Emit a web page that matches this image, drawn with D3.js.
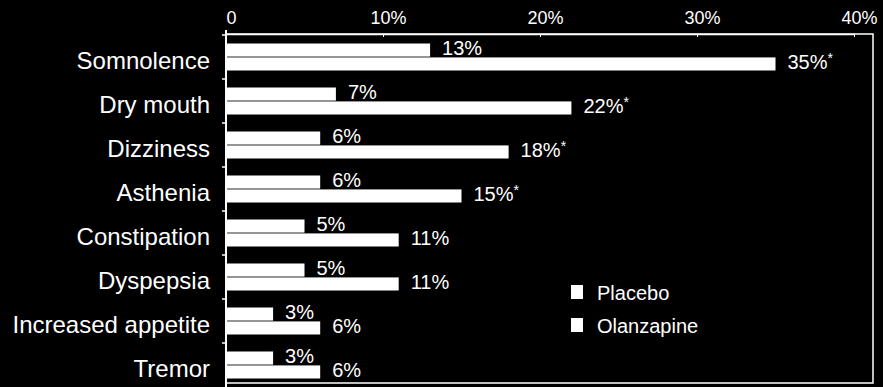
<!DOCTYPE html>
<html>
<head>
<meta charset="utf-8">
<script src="https://cdn.jsdelivr.net/npm/d3@7"></script>
<style>
  html, body { margin: 0; padding: 0; background: #000; }
  svg { display: block; }
  text { font-family: "Liberation Sans", Arial, sans-serif; fill: #fff; }
</style>
</head>
<body>
<div id="chart"></div>
<script>
const categories = ['Somnolence', 'Dry mouth', 'Dizziness', 'Asthenia',
  'Constipation', 'Dyspepsia', 'Increased appetite', 'Tremor'];
const series = ['Placebo', 'Olanzapine'];
const placebo = [13, 7, 6, 6, 5, 5, 3, 3];
const olanzapine = [35, 22, 18, 15, 11, 11, 6, 6];
const significant = [true, true, true, true, false, false, false, false];
const xTicks = [0, 10, 20, 30, 40];

const dims = { width: 883, height: 387 };
const margins = { left: 226, top: 35, right: 10, bottom: 0 };

const rows = categories.map((c, i) => ({
  cat: c,
  vals: [
    { s: 'Placebo', v: placebo[i], star: false },
    { s: 'Olanzapine', v: olanzapine[i], star: significant[i] }
  ]
}));

const svg = d3.select('#chart').append('svg')
  .attr('width', dims.width)
  .attr('height', dims.height);

const x = d3.scaleLinear().domain([0, 40]).range([margins.left, 854]);
const y = d3.scaleBand().domain(categories).range([margins.top, margins.top + 44 * categories.length]);
const y1 = d3.scaleBand().domain(series).range([8.5, 35.5]).paddingInner(0.06);

// frame (top axis line, right + bottom edges)
const frameRight = 873, frameTop = 34, frameBottom = 383;
svg.append('path')
  .attr('d', `M${margins.left},${frameTop}H${frameRight}V${frameBottom}H${margins.left}`)
  .attr('fill', 'none').attr('stroke', '#fff').attr('stroke-width', 1.5);

// x axis along top
const xAxis = d3.axisTop(x).tickValues(xTicks).tickSize(3).tickSizeOuter(0)
  .tickFormat(d => d === 0 ? '0' : d + '%');
const xg = svg.append('g').attr('transform', `translate(0,${frameTop})`).call(xAxis);
xg.select('.domain').attr('stroke', '#fff').attr('stroke-width', 1.5);
xg.selectAll('.tick line').attr('stroke', '#fff').attr('y2', 3);
xg.selectAll('.tick text')
  .attr('fill', '#fff').attr('font-size', 18)
  .attr('x', 5).attr('y', -10).attr('dy', 0)
  .style('font-family', '"Liberation Sans", Arial, sans-serif');

// left axis line with ticks at category boundaries
svg.append('line')
  .attr('x1', margins.left).attr('x2', margins.left)
  .attr('y1', 30).attr('y2', dims.height)
  .attr('stroke', '#fff').attr('stroke-width', 2);
svg.selectAll('.ytick')
  .data(categories)
  .join('line')
  .attr('class', 'ytick')
  .attr('x1', margins.left - 4).attr('x2', margins.left)
  .attr('y1', d => y(d)).attr('y2', d => y(d))
  .attr('stroke', '#fff').attr('stroke-width', 1.5);

// category labels
svg.selectAll('.cat')
  .data(categories)
  .join('text')
  .attr('class', 'cat')
  .attr('x', margins.left - 16)
  .attr('y', d => y(d) + y.bandwidth() / 2 + 12)
  .attr('text-anchor', 'end')
  .attr('font-size', 24)
  .text(d => d);

// bars
const g = svg.selectAll('.row')
  .data(rows)
  .join('g')
  .attr('class', 'row')
  .attr('transform', d => `translate(0,${y(d.cat)})`);

g.selectAll('rect')
  .data(d => d.vals)
  .join('rect')
  .attr('x', x(0))
  .attr('y', d => y1(d.s))
  .attr('width', d => x(d.v) - x(0))
  .attr('height', y1.bandwidth())
  .attr('fill', '#fff');

const lbl = g.selectAll('text.val')
  .data(d => d.vals)
  .join('text')
  .attr('class', 'val')
  .attr('x', d => x(d.v) + 12)
  .attr('y', d => y1(d.s) + y1.bandwidth() - 2)
  .attr('font-size', 20);
lbl.append('tspan').text(d => d.v + '%');
lbl.filter(d => d.star).append('tspan')
  .attr('font-size', 14).attr('dy', -6).text('*');

// legend
const legend = svg.selectAll('.leg')
  .data(series)
  .join('g')
  .attr('class', 'leg')
  .attr('transform', (d, i) => `translate(571,${285 + i * 33})`);
legend.append('rect')
  .attr('width', 12).attr('height', 14).attr('fill', '#fff');
legend.append('text')
  .attr('x', 26).attr('y', 15)
  .attr('font-size', 20)
  .text(d => d);
</script>
</body>
</html>
